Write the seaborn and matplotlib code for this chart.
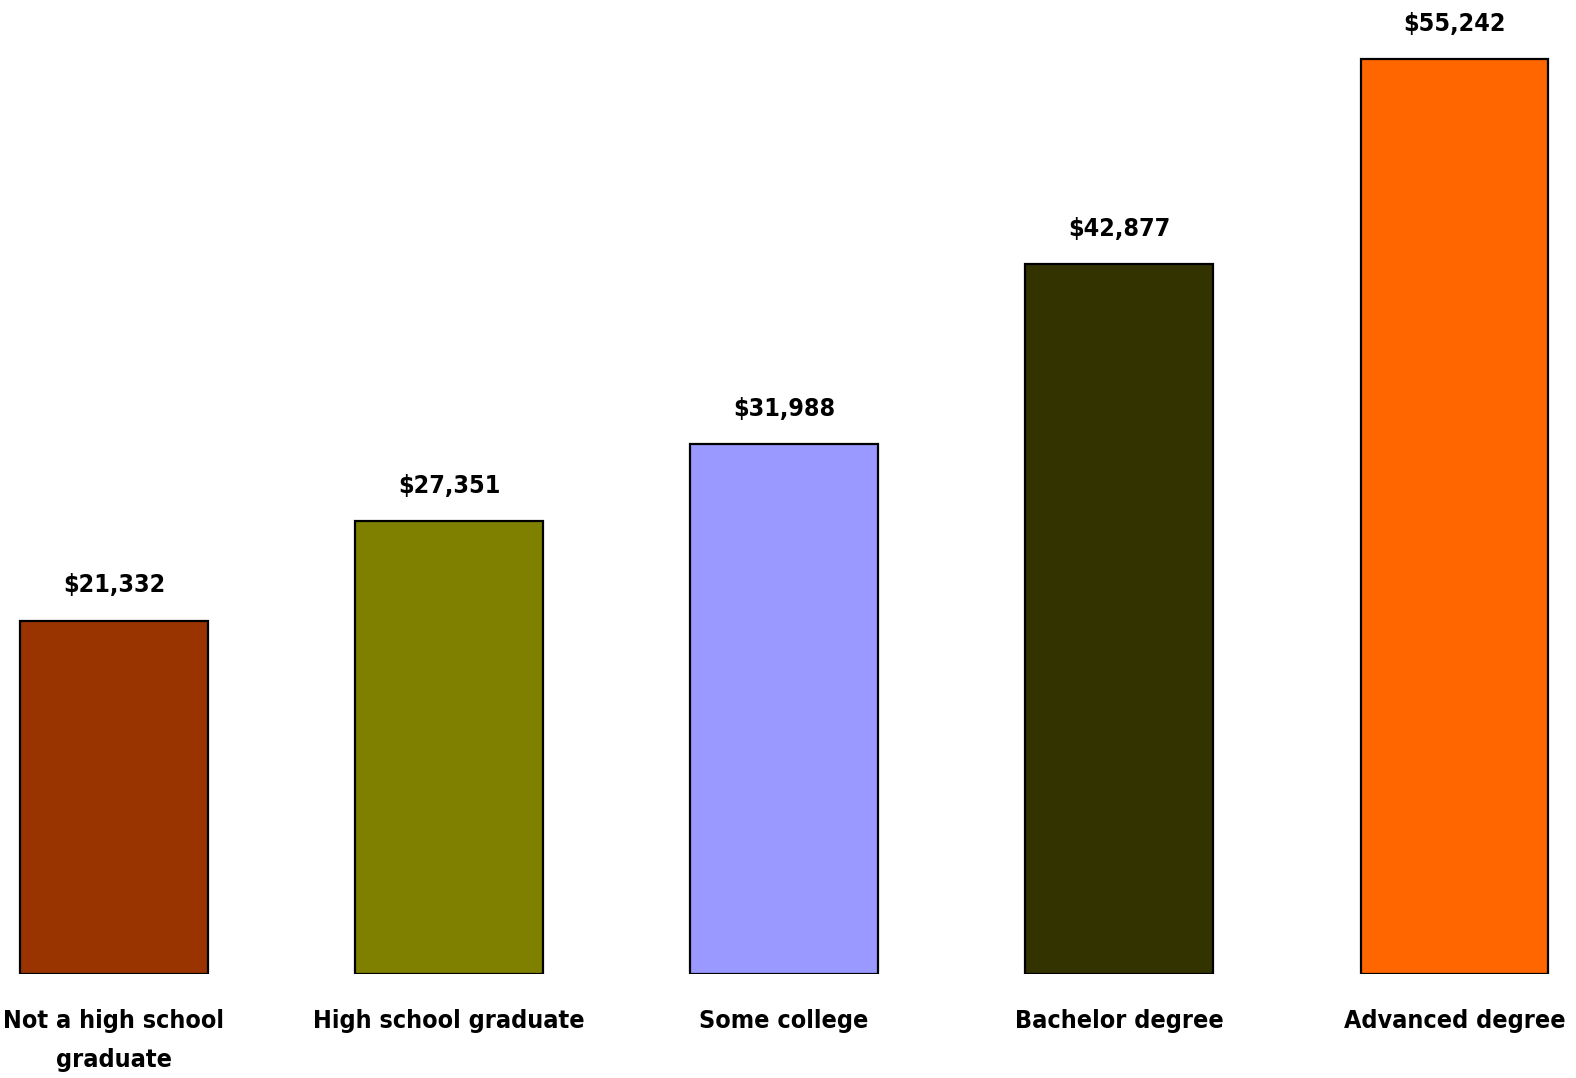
import matplotlib
matplotlib.use("Agg")
import matplotlib.pyplot as plt
import seaborn as sns
import pandas as pd

# data
categories = ["Not a high school\ngraduate", "High school graduate", "Some college",
              "Bachelor degree", "Advanced degree"]
earnings = [21332, 27351, 31988, 42877, 55242]
bar_colors = ["#993300", "#808000", "#9999FF", "#333300", "#FF6600"]

sns.set_theme(style="white")
plt.rcParams["font.family"] = ["DejaVu Sans"]
plt.rcParams["font.stretch"] = "condensed"
plt.rcParams["text.color"] = "black"
plt.rcParams["xtick.color"] = "black"

df = pd.DataFrame({"level": categories, "earnings": earnings})

fig = plt.figure(figsize=(15.76, 10.78), dpi=100)
ax = fig.add_axes([0, 104 / 1078, 1, 1 - 104 / 1078])

sns.barplot(data=df, x="level", y="earnings", hue="level", palette=bar_colors,
            saturation=1, width=0.56, edgecolor="black", linewidth=1.6,
            legend=False, ax=ax)

ax.set_xlim(-0.340, 4.363)
ax.set_ylim(0, 58824)
sns.despine(ax=ax, left=True, bottom=True)
ax.set_yticks([])
ax.set_xlabel("")
ax.set_ylabel("")
ax.tick_params(axis="x", length=0, pad=25)
for lbl in ax.get_xticklabels():
    lbl.set_fontsize(18)
    lbl.set_fontweight("bold")
    lbl.set_fontstretch("condensed")
    lbl.set_multialignment("center")
    lbl.set_linespacing(1.8)

for i, v in enumerate(earnings):
    ax.annotate(f"${v:,}", (i, v), xytext=(0, 25.5), textcoords="offset points",
                ha="center", va="center", fontsize=18, fontweight="bold",
                fontstretch="condensed")

fig.savefig("out.png", dpi=100)
